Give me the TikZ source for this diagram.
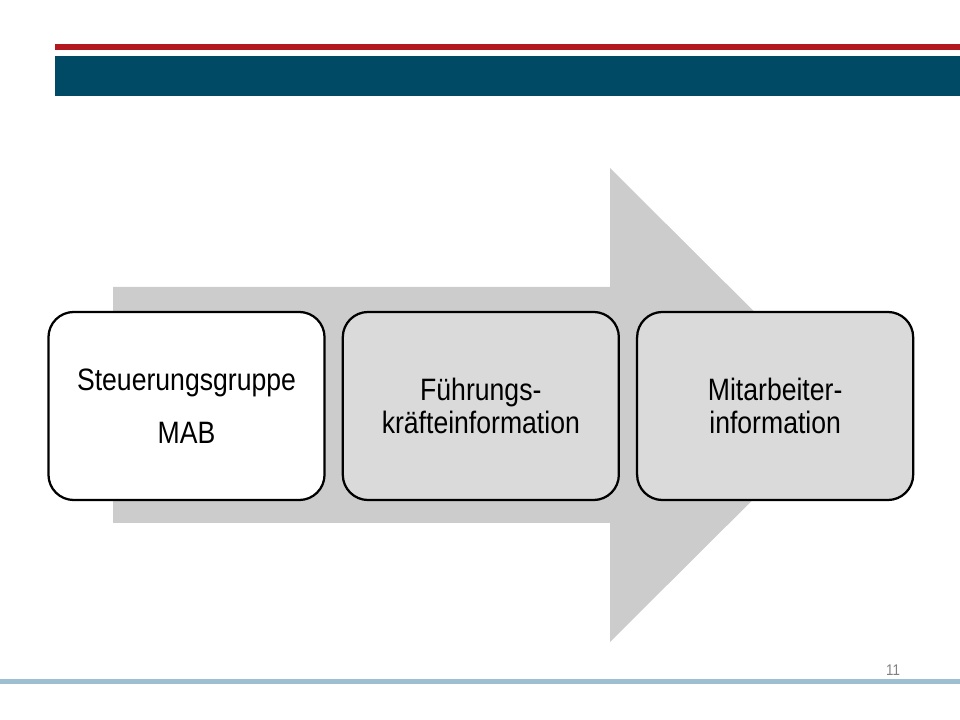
\documentclass[tikz,border=0pt]{standalone}
\usepackage{fontspec}
\setmainfont{Liberation Sans}[FakeStretch=0.86]
\usetikzlibrary{positioning}
\definecolor{barred}{RGB}{178,24,30}
\definecolor{barblue}{RGB}{0,74,102}
\definecolor{linelight}{RGB}{157,191,208}
\definecolor{arrowgray}{RGB}{204,204,204}
\definecolor{boxgray}{RGB}{218,218,218}
\tikzset{
  stepbox/.style={draw=black, line width=1.6pt, rounded corners=18pt,
    minimum width=6.9cm, minimum height=4.7cm, align=center,
    font=\fontsize{22}{24}\selectfont},
}
\begin{document}
\begin{tikzpicture}[x=0.025cm,y=-0.025cm]
\useasboundingbox (0,0) rectangle (960,720);
% Kopfleiste
\fill[barred] (55,44) rectangle (960,50);
\fill[barblue] (55,56) rectangle (960,96);
% Fussleiste
\fill[linelight] (0,679) rectangle (960,684);
\node[font=\fontsize{11}{13}\selectfont, text=gray] (seite) at (893,670) {11};
% Pfeil
\fill[arrowgray] (113,287) -- (610,287) -- (610,168) -- (848,405)
  -- (610,642) -- (610,523) -- (113,523) -- cycle;
% Stufen
\node[stepbox, fill=white] (steuerung) at (186.5,406)
  {Steuerungsgruppe\\[14pt]MAB};
\node[stepbox, fill=boxgray, right=0.4cm of steuerung] (fuehrung)
  {Führungs-\\kräfteinformation};
\node[stepbox, fill=boxgray, right=0.4cm of fuehrung] (mitarbeiter)
  {Mitarbeiter-\\information};
\end{tikzpicture}
\end{document}
